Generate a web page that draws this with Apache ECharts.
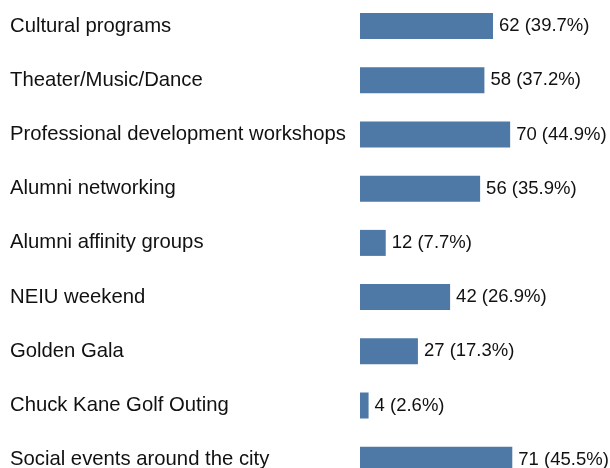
<!DOCTYPE html>
<html>
<head>
<meta charset="utf-8">
<script src="https://cdn.jsdelivr.net/npm/echarts@6/dist/echarts.min.js"></script>
<style>
  html, body { margin: 0; padding: 0; background: #fff; }
  #chart { width: 610px; height: 468px; }
</style>
</head>
<body>
<div id="chart"></div>
<script>
const categories = [
  "Cultural programs",
  "Theater/Music/Dance",
  "Professional development workshops",
  "Alumni networking",
  "Alumni affinity groups",
  "NEIU weekend",
  "Golden Gala",
  "Chuck Kane Golf Outing",
  "Social events around the city",
];
const counts = [62, 58, 70, 56, 12, 42, 27, 4, 71];
const percents = ["39.7", "37.2", "44.9", "35.9", "7.7", "26.9", "17.3", "2.6", "45.5"];

const chart = echarts.init(document.getElementById("chart"));
chart.setOption({
  animation: false,
  grid: {
    left: 360,
    width: 214.5,
    top: -1,
    height: 487.8,
    outerBoundsMode: "none",
    containLabel: false,
  },
  xAxis: {
    type: "value",
    min: 0,
    max: 100,
    show: false,
  },
  yAxis: {
    type: "category",
    inverse: true,
    data: categories,
    axisLine: { show: false },
    axisTick: { show: false },
    axisLabel: {
      align: "left",
      margin: 350,
      color: "#111",
      fontFamily: "Liberation Sans, Arial, sans-serif",
      fontSize: 20.3,
    },
  },
  series: [
    {
      type: "bar",
      data: counts,
      barWidth: 26,
      itemStyle: { color: "#4e78a6" },
      label: {
        show: true,
        position: "right",
        distance: 6,
        color: "#111",
        fontFamily: "Liberation Sans, Arial, sans-serif",
        fontSize: 18.5,
        formatter: (p) => p.value + " (" + percents[p.dataIndex] + "%)",
      },
    },
  ],
});
</script>
</body>
</html>
